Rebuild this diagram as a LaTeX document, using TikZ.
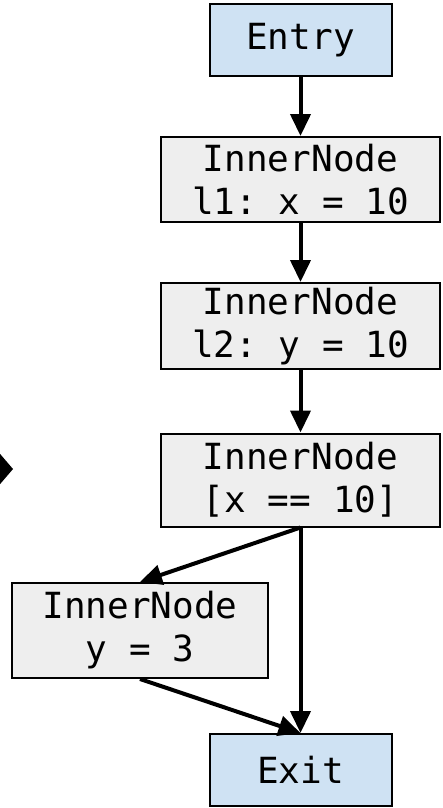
\documentclass[tikz,border=0pt]{standalone}
\usepackage{fontspec}
\setmonofont{DejaVu Sans Mono}
\usetikzlibrary{arrows.meta}
\definecolor{termfill}{RGB}{207,226,243}
\definecolor{innerfill}{RGB}{238,238,238}
\tikzset{
  box/.style={draw=black, line width=2pt, inner sep=0pt, align=center,
    font=\ttfamily\fontsize{36}{43}\selectfont},
  termbox/.style={box, fill=termfill, minimum width=182pt, minimum height=72pt},
  innerbox/.style={box, fill=innerfill},
  edge/.style={line width=4pt, -{Triangle[length=22pt,width=20pt]}}
}
\begin{document}
\begin{tikzpicture}[x=1pt,y=-1pt]
\useasboundingbox (0,0) rectangle (442,808);
\clip (0,0) rectangle (442,808);
\node[termbox] (entry) at (300.5,40) {Entry};
\node[innerbox, minimum width=279pt, minimum height=85pt] (n1) at (300.5,179.5) {InnerNode\\l1: x = 10};
\node[innerbox, minimum width=279pt, minimum height=86pt] (n2) at (300.5,326) {InnerNode\\l2: y = 10};
\node[innerbox, minimum width=279pt, minimum height=93pt] (n3) at (300.5,480) {InnerNode\\{}[x == 10]};
\node[innerbox, minimum width=256pt, minimum height=95pt] (n4) at (140,630.5) {InnerNode\\y = 3};
\node[termbox] (exit) at (300.5,770) {Exit};
\draw[edge] (entry.south) -- (n1.north);
\draw[edge] (n1.south) -- (n2.north);
\draw[edge] (n2.south) -- (n3.north);
\draw[edge] (n3.south) -- (n4.north);
\draw[edge] (n3.south) -- (exit.north);
\draw[edge] (n4.south) -- (exit.north);
\coordinate (stray) at (13,469);
\fill (stray) -- ++(-24,-28) -- ++(0,56) -- cycle;
\end{tikzpicture}
\end{document}
